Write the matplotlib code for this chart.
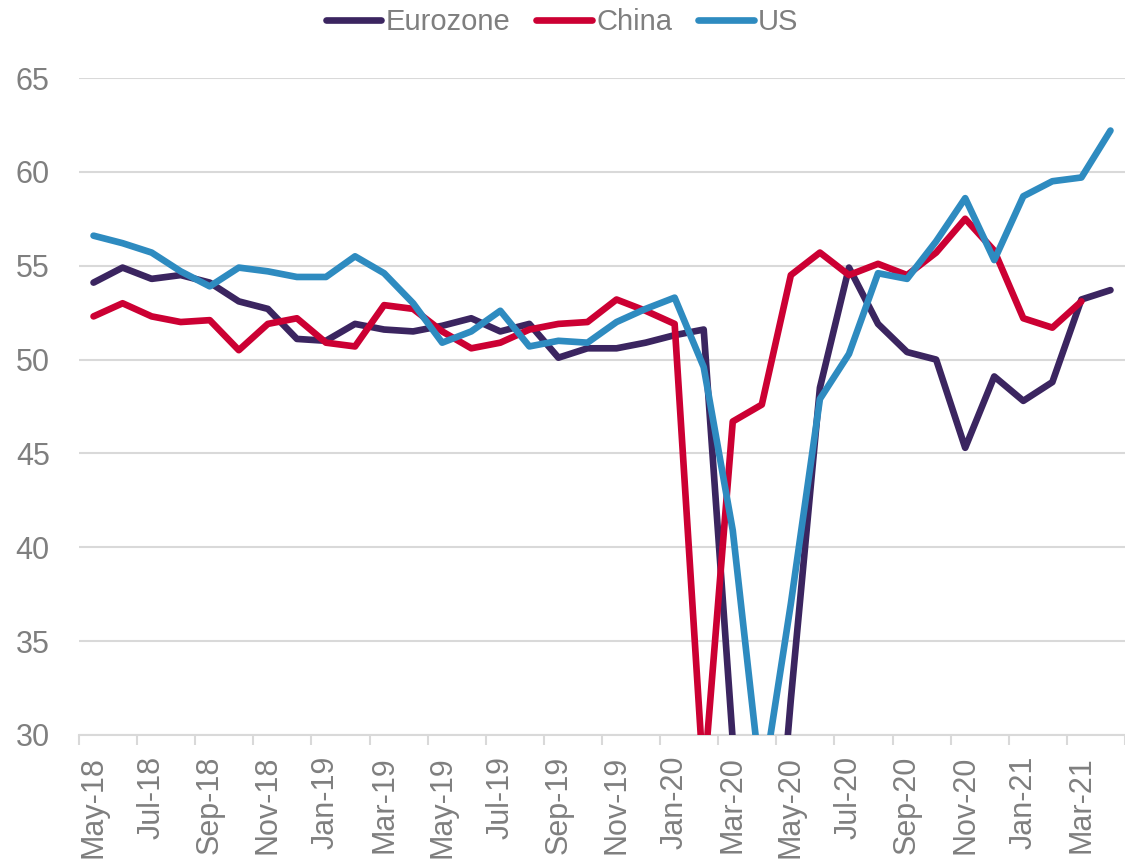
import matplotlib
matplotlib.use("Agg")
import matplotlib.pyplot as plt
import numpy as np

months = ["May-18","Jun-18","Jul-18","Aug-18","Sep-18","Oct-18","Nov-18","Dec-18",
          "Jan-19","Feb-19","Mar-19","Apr-19","May-19","Jun-19","Jul-19","Aug-19",
          "Sep-19","Oct-19","Nov-19","Dec-19","Jan-20","Feb-20","Mar-20","Apr-20",
          "May-20","Jun-20","Jul-20","Aug-20","Sep-20","Oct-20","Nov-20","Dec-20",
          "Jan-21","Feb-21","Mar-21","Apr-21"]

eurozone = [54.1, 54.9, 54.3, 54.5, 54.1, 53.1, 52.7, 51.1, 51.0, 51.9, 51.6, 51.5,
            51.8, 52.2, 51.5, 51.9, 50.1, 50.6, 50.6, 50.9, 51.3, 51.6, 29.7, 13.6,
            31.9, 48.5, 54.9, 51.9, 50.4, 50.0, 45.3, 49.1, 47.8, 48.8, 53.2, 53.7]
china = [52.3, 53.0, 52.3, 52.0, 52.1, 50.5, 51.9, 52.2, 50.9, 50.7, 52.9, 52.7,
         51.5, 50.6, 50.9, 51.6, 51.9, 52.0, 53.2, 52.6, 51.9, 27.5, 46.7, 47.6,
         54.5, 55.7, 54.5, 55.1, 54.5, 55.7, 57.5, 55.8, 52.2, 51.7, 53.1]
us = [56.6, 56.2, 55.7, 54.7, 53.9, 54.9, 54.7, 54.4, 54.4, 55.5, 54.6, 53.0,
      50.9, 51.5, 52.6, 50.7, 51.0, 50.9, 52.0, 52.7, 53.3, 49.6, 40.9, 27.0,
      37.0, 47.9, 50.3, 54.6, 54.3, 56.3, 58.6, 55.3, 58.7, 59.5, 59.7, 62.2]

series_names = ["Eurozone", "China", "US"]
colors = ["#3B2560", "#CC0033", "#2E8BC0"]
yticks = [30, 35, 40, 45, 50, 55, 60, 65]

plt.rcParams['font.family'] = ['Liberation Sans', 'DejaVu Sans']
gray = "#7F7F7F"

fig = plt.figure(figsize=(11.25, 8.61), dpi=100)
ax = fig.add_axes([79/1125, 126/861, 1046/1125, 657/861])

x = np.arange(len(months))
for name, vals, c in zip(series_names, [eurozone, china, us], colors):
    ax.plot(x[:len(vals)], vals, color=c, lw=4.8, label=name,
            solid_joinstyle='round', solid_capstyle='round', zorder=3)

ax.set_ylim(30, 65)
ax.set_xlim(-0.5, 35.31)
ax.set_yticks(yticks)
ax.set_yticklabels([str(v) for v in yticks])
ax.grid(axis='y', color='#D9D9D9', lw=1.5, zorder=0)
ax.set_axisbelow(True)

ax.set_xticks(x[::2])
ax.set_xticklabels(months[::2], rotation=90, va='top', ha='center')
ax.set_xticks(np.arange(-0.5, len(months), 2), minor=True)
ax.tick_params(axis='x', which='major', length=0, pad=15, labelsize=22, colors=gray)
ax.tick_params(axis='x', which='minor', length=7.5, width=1.5, color='#D9D9D9')
ax.tick_params(axis='y', length=0, pad=21, labelsize=22, colors=gray)

for s in ['top', 'right', 'left']:
    ax.spines[s].set_visible(False)
ax.spines['bottom'].set_color('#D9D9D9')
ax.spines['bottom'].set_linewidth(1.5)

leg = fig.legend(loc='center', bbox_to_anchor=(562/1125, 1 - 22/861), ncol=3,
                 frameon=False, fontsize=21, handlelength=1.9, handletextpad=0.15,
                 columnspacing=0.9, borderaxespad=0)
for t in leg.get_texts():
    t.set_color(gray)
for h in leg.get_lines():
    h.set_linewidth(4.8)
    h.set_solid_capstyle('round')

fig.savefig("out.png", dpi=100)
